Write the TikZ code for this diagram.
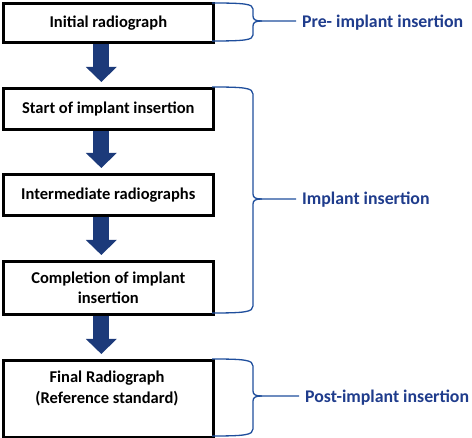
\documentclass[tikz,border=0pt]{standalone}
\usepackage{fontspec}
\setmainfont{Carlito}[BoldFont={Carlito Bold}]
\usetikzlibrary{arrows.meta}
\definecolor{navy}{HTML}{1C3A7A}
\definecolor{bracecol}{HTML}{1F4E9C}
\definecolor{labelcol}{HTML}{1F3C8C}
\begin{document}
\begin{tikzpicture}[x=1pt,y=-1pt,
  stepbox/.style={draw=black,line width=2.6pt,fill=white,minimum width=210pt,inner sep=0pt,
    font=\fontsize{16.5}{20}\selectfont\bfseries,align=center,anchor=north west},
  flow/.style={draw=navy,line width=16pt,-{Triangle[width=30pt,length=15pt]},shorten >=5pt},
  brace/.style={draw=bracecol,line width=1.3pt},
  phase/.style={text=labelcol,font=\fontsize{17.8}{21}\selectfont\bfseries,anchor=west,inner sep=0pt}]
\useasboundingbox (0,0) rectangle (472,438);
% boxes
\node[stepbox,minimum height=39pt] (b1) at (2,2) {Initial radiograph};
\node[stepbox,minimum height=41pt] (b2) at (2,87) {Start of implant insertion};
\node[stepbox,minimum height=41pt] (b3) at (2,173) {Intermediate radiographs};
\node[stepbox,minimum height=53pt] (b4) at (2,260) {Completion of implant\\insertion};
\node[stepbox,minimum height=77pt] (b5) at (2,359) {};
\node[font=\fontsize{16.5}{21}\selectfont\bfseries,align=center,inner sep=0pt] (t5) at (107,388) {Final Radiograph\\(Reference standard)};
% arrows
\draw[flow] ([xshift=-7pt]b1.south) -- ([xshift=-7pt]b2.north);
\draw[flow] ([xshift=-7pt]b2.south) -- ([xshift=-7pt]b3.north);
\draw[flow] ([xshift=-7pt]b3.south) -- ([xshift=-7pt]b4.north);
\draw[flow] ([xshift=-7pt]b4.south) -- ([xshift=-7pt]b5.north);
% labels
\node[phase] (p1) at (302,23) {Pre- implant insertion};
\node[phase] (p2) at (302,200) {Implant insertion};
\node[phase] (p3) at (305,398) {Post-implant insertion};
% braces
\coordinate (c1a) at (212,3); \coordinate (c1b) at (212,41);
\draw[brace] (c1a) .. controls (245,3) and (253,4) .. (253,9) -- (253,16)
  .. controls (253,20) and (256,21) .. (262,21) -- ([xshift=-6pt]p1.west |- 0,21);
\draw[brace] (262,21) .. controls (256,21) and (253,22) .. (253,26) -- (253,35)
  .. controls (253,40) and (245,41) .. (c1b);
\coordinate (c2a) at (212,87); \coordinate (c2b) at (212,313);
\draw[brace] (c2a) .. controls (245,87) and (253,88) .. (253,94) -- (253,194)
  .. controls (253,198) and (256,199) .. (262,199) -- ([xshift=-6pt]p2.west |- 0,199);
\draw[brace] (262,199) .. controls (256,199) and (253,200) .. (253,204) -- (253,306)
  .. controls (253,312) and (245,313) .. (c2b);
\coordinate (c3a) at (212,359); \coordinate (c3b) at (212,436);
\draw[brace] (c3a) .. controls (245,359) and (253,360) .. (253,366) -- (253,391)
  .. controls (253,395) and (256,396) .. (262,396) -- ([xshift=-6pt]p3.west |- 0,396);
\draw[brace] (262,396) .. controls (256,396) and (253,397) .. (253,401) -- (253,429)
  .. controls (253,435) and (245,436) .. (c3b);
\end{tikzpicture}
\end{document}
